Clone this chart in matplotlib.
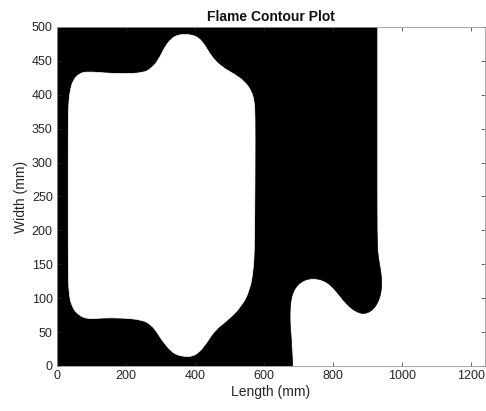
import matplotlib.pyplot as plt
from matplotlib.path import Path
from matplotlib.patches import PathPatch

plt.rcParams['font.family'] = ['Liberation Sans', 'DejaVu Sans']

X_MAX = 1240
Y_MAX = 500

# black / white boundary on the right, from the bottom edge up to the top edge (mm)
front_x = [683, 681, 679, 676, 675, 676, 679, 685, 695, 708, 725, 743, 760, 776,
           791, 806, 822, 838, 855, 872, 888, 903, 917, 929, 937, 941, 940, 936,
           931, 928, 927, 927, 927, 927]
front_y = [0, 20, 40, 58, 74, 88, 100, 110, 118, 124, 128, 129, 128, 125,
           120, 112, 102, 92, 84, 79, 77, 79, 84, 93, 104, 117, 132, 146,
           160, 176, 220, 320, 420, 500]

# closed unburnt pocket inside the black region (mm)
pocket_x = [371, 392, 411, 429, 448, 477, 516, 545, 564, 572, 574, 574, 573, 572,
            569, 559, 535, 496, 458, 434, 410, 390, 371, 350, 332, 304, 290, 274,
            250, 188, 130, 91, 62, 43, 35, 33, 33, 33, 34, 38, 47, 67, 91,
            140, 188, 250, 274, 294, 313, 332, 350]
pocket_y = [489, 488, 484, 473, 456, 441, 430, 419, 405, 390, 370, 300, 220, 171,
            142, 112, 88, 68, 53, 34, 19, 14, 14, 16, 21, 38, 50, 60,
            68, 71, 71, 69, 75, 88, 107, 140, 250, 355, 385, 405, 422, 432, 434,
            432, 431, 432, 439, 451, 471, 483, 488]


def smooth_verts(xs, ys, closed=False):
    pts = list(zip(xs, ys))
    verts, codes = [], []
    if closed:
        n = len(pts)
        mid = lambda a, b: ((a[0] + b[0]) / 2, (a[1] + b[1]) / 2)
        verts.append(mid(pts[-1], pts[0]))
        codes.append(Path.MOVETO)
        for i in range(n):
            verts += [pts[i], mid(pts[i], pts[(i + 1) % n])]
            codes += [Path.CURVE3, Path.CURVE3]
        verts.append(verts[0])
        codes.append(Path.CLOSEPOLY)
        return verts, codes
    verts.append(pts[0])
    codes.append(Path.MOVETO)
    for i in range(1, len(pts) - 1):
        m = ((pts[i][0] + pts[i + 1][0]) / 2, (pts[i][1] + pts[i + 1][1]) / 2)
        verts += [pts[i], m]
        codes += [Path.CURVE3, Path.CURVE3]
    verts.append(pts[-1])
    codes.append(Path.LINETO)
    return verts, codes


fig = plt.figure(figsize=(4.86, 4.11), dpi=100)
ax = fig.add_axes([0.117, 0.1095, 0.881, 0.825])

# burnt region: left of the flame front
v, c = smooth_verts(front_x, front_y)
v = [(0, 0)] + v + [(0, Y_MAX), (0, 0)]
c = [Path.MOVETO] + [Path.LINETO] + c[1:] + [Path.LINETO, Path.CLOSEPOLY]
ax.add_patch(PathPatch(Path(v, c), facecolor='black', edgecolor='black', lw=0.5))

v, c = smooth_verts(pocket_x, pocket_y, closed=True)
ax.add_patch(PathPatch(Path(v, c), facecolor='white', edgecolor='white', lw=0.5))

ax.set_xlim(0, X_MAX)
ax.set_ylim(0, Y_MAX)
ax.set_xticks(range(0, 1201, 200))
ax.set_yticks(range(0, 501, 50))
ax.tick_params(direction='in', length=3, width=0.5, colors='#262626',
               labelsize=9, top=True, right=True, pad=3)
for s in ax.spines.values():
    s.set_color('#999999')
    s.set_linewidth(0.6)
ax.set_title('Flame Contour Plot', fontsize=10, fontweight='bold', color='#111111', pad=4)
ax.set_xlabel('Length (mm)', fontsize=10, color='#262626', labelpad=2)
ax.set_ylabel('Width (mm)', fontsize=10, color='#262626', labelpad=3)

fig.savefig('out.png', dpi=100)
